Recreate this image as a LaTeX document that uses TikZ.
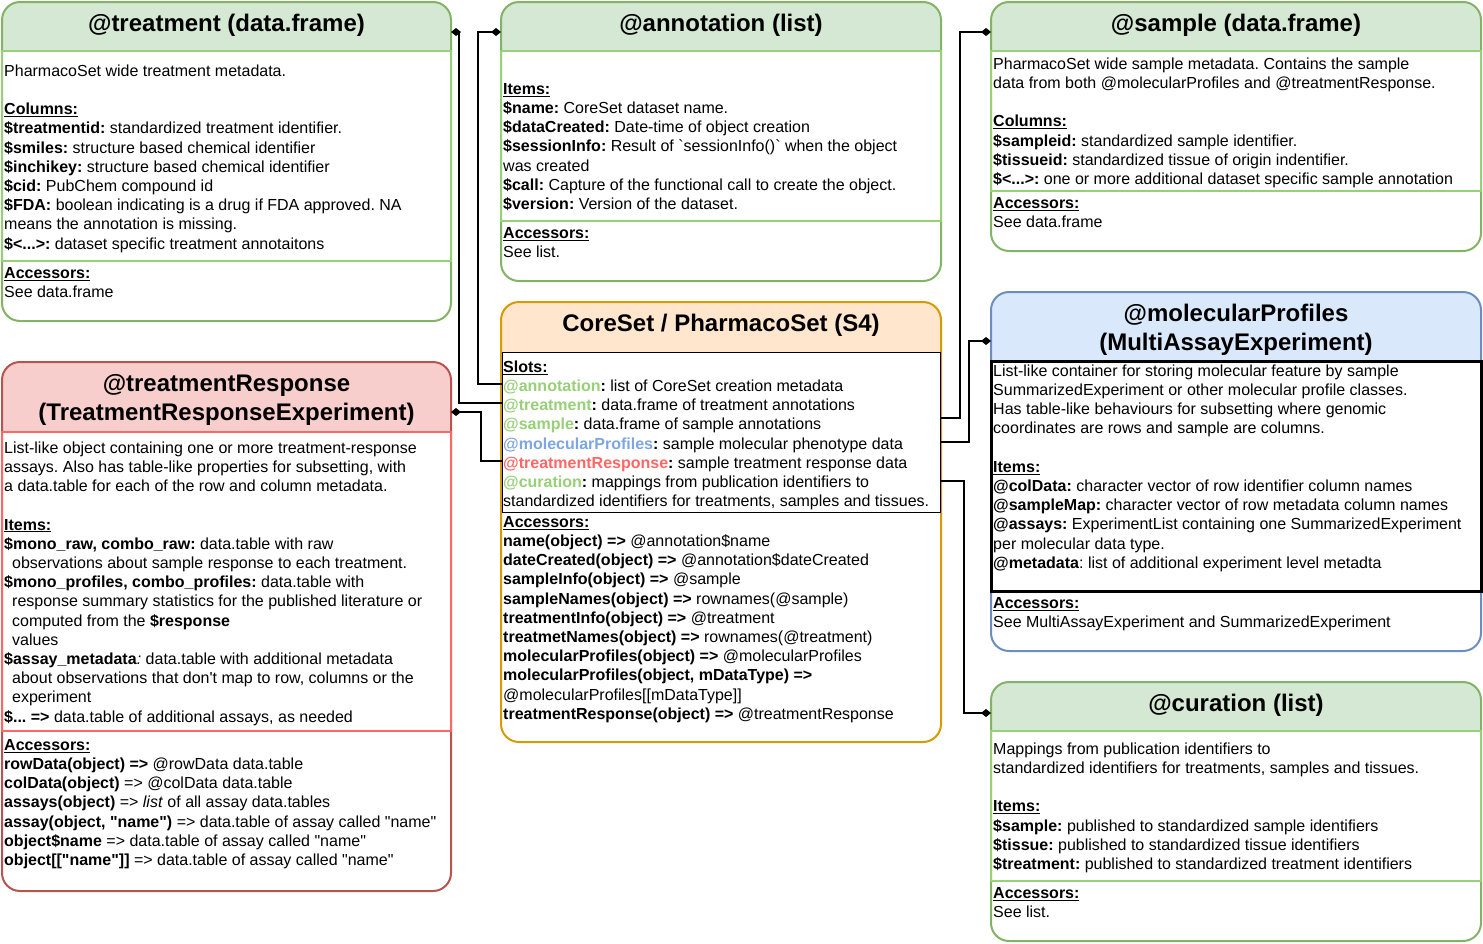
\documentclass[tikz,border=0pt]{standalone}
\usepackage{fontspec}
\setmainfont{Liberation Sans}
\usepackage{tikz}
\usetikzlibrary{arrows.meta,positioning}
\definecolor{grnline}{HTML}{82B366}
\definecolor{grnsec}{HTML}{97D077}
\definecolor{grnfill}{HTML}{D5E8D4}
\definecolor{redline}{HTML}{B85450}
\definecolor{redsec}{HTML}{FF6666}
\definecolor{redfill}{HTML}{F8CECC}
\definecolor{orgline}{HTML}{D79B00}
\definecolor{orgfill}{HTML}{FFE6CC}
\definecolor{blueline}{HTML}{6C8EBF}
\definecolor{bluefill}{HTML}{DAE8FC}
\definecolor{blueslot}{HTML}{7EA6E0}
\newcommand{\hd}[1]{\underline{\textbf{#1}}}
\newcommand{\lnstrut}{\rule{0pt}{14pt}}
\newcommand{\ttlstrut}{\rule{0pt}{20pt}}
\newcommand{\qn}{\textquotedbl name\textquotedbl}
\frenchspacing

\begin{document}
\begin{tikzpicture}[x=1pt, y=-1pt,
  txt/.style={anchor=north west, align=left, inner sep=0pt, font=\fontsize{16}{19.2}\selectfont},
  ttl/.style={anchor=north, align=center, inner sep=0pt, font=\fontsize{24}{28.8}\selectfont\bfseries},
  classbox/.style n args={3}{draw=#1, fill=white, line width=2pt, rounded corners=18pt,
    anchor=north west, inner sep=0pt, outer sep=0pt,
    path picture={\fill[#2, sharp corners] (path picture bounding box.north west) rectangle ([yshift=-#3]path picture bounding box.north east);}},
  conn/.style={draw=black, line width=1.5pt, -{Diamond[length=10pt,width=8pt]}}]
  \useasboundingbox (0,0) rectangle (1483,943);

  % treatment slot
  \node[classbox={grnline}{grnfill}{49pt}, minimum width=449pt, minimum height=319pt] (treat) at (2,2) {};
  \draw[grnsec, line width=2pt] (2,51) rectangle (451,261);
  \node[ttl] (treatT) at (226.5,11) {\ttlstrut @treatment (data.frame)};
  \node[txt] (treatB) at (4,62) {\lnstrut PharmacoSet wide treatment metadata.\\[19.2pt]
    \hd{Columns:}\\
    \textbf{\$treatmentid:} standardized treatment identifier.\\
    \textbf{\$smiles:} structure based chemical identifier\\
    \textbf{\$inchikey:} structure based chemical identifier\\
    \textbf{\$cid:} PubChem compound id\\
    \textbf{\$FDA:} boolean indicating is a drug if FDA approved. NA\\
    means the annotation is missing.\\
    \textbf{\$<...>:} dataset specific treatment annotaitons};
  \node[txt] (treatA) at (4,264) {\lnstrut\hd{Accessors:}\\ See data.frame};

  % annotation slot
  \node[classbox={grnline}{grnfill}{49pt}, minimum width=440pt, minimum height=279pt] (ann) at (501,2) {};
  \draw[grnsec, line width=2pt] (501,51) rectangle (941,221);
  \node[ttl] (annT) at (721,11) {\ttlstrut @annotation (list)};
  \node[txt] (annB) at (503,80) {\lnstrut\hd{Items:}\\
    \textbf{\$name:} CoreSet dataset name.\\
    \textbf{\$dataCreated:} Date-time of object creation\\
    \textbf{\$sessionInfo:} Result of \textasciigrave sessionInfo()\textasciigrave\ when the object\\
    was created\\
    \textbf{\$call:} Capture of the functional call to create the object.\\
    \textbf{\$version:} Version of the dataset.};
  \node[txt] (annA) at (503,224) {\lnstrut\hd{Accessors:}\\ See list.};

  % sample slot
  \node[classbox={grnline}{grnfill}{49pt}, minimum width=490pt, minimum height=249pt] (smp) at (991,2) {};
  \draw[grnsec, line width=2pt] (991,51) rectangle (1481,191);
  \node[ttl] (smpT) at (1236,11) {\ttlstrut @sample (data.frame)};
  \node[txt] (smpB) at (993,55) {\lnstrut PharmacoSet wide sample metadata. Contains the sample\\
    data from both @molecularProfiles and @treatmentResponse.\\[19.2pt]
    \hd{Columns:}\\
    \textbf{\$sampleid:} standardized sample identifier.\\
    \textbf{\$tissueid:} standardized tissue of origin indentifier.\\
    \textbf{\$<...>:} one or more additional dataset specific sample annotation};
  \node[txt] (smpA) at (993,194) {\lnstrut\hd{Accessors:}\\ See data.frame};

  % CoreSet / PharmacoSet
  \node[classbox={orgline}{orgfill}{50pt}, minimum width=440pt, minimum height=440pt] (core) at (501,302) {};
  \draw[black, line width=1pt] (502,352) rectangle (940,512);
  \node[ttl] (coreT) at (721,311) {\ttlstrut CoreSet / PharmacoSet (S4)};
  \node[txt] (coreB) at (503,358) {\lnstrut\hd{Slots:}\\
    \textbf{\textcolor{grnsec}{@annotation}:} list of CoreSet creation metadata\\
    \textbf{\textcolor{grnsec}{@treatment}:} data.frame of treatment annotations\\
    \textbf{\textcolor{grnsec}{@sample}:} data.frame of sample annotations\\
    \textbf{\textcolor{blueslot}{@molecularProfiles}:} sample molecular phenotype data\\
    \textbf{\textcolor{redsec}{@treatmentResponse}:} sample treatment response data\\
    \textbf{\textcolor{grnsec}{@curation}:} mappings from publication identifiers to\\
    standardized identifiers for treatments, samples and tissues.};
  \node[txt] (coreA) at (503,513) {\lnstrut\hd{Accessors:}\\
    \textbf{name(object) =>} @annotation\$name\\
    \textbf{dateCreated(object) =>} @annotation\$dateCreated\\
    \textbf{sampleInfo(object) =>} @sample\\
    \textbf{sampleNames(object) =>} rownames(@sample)\\
    \textbf{treatmentInfo(object) =>} @treatment\\
    \textbf{treatmetNames(object) =>} rownames(@treatment)\\
    \textbf{molecularProfiles(object) =>} @molecularProfiles\\
    \textbf{molecularProfiles(object, mDataType) =>}\\
    @molecularProfiles[[mDataType]]\\
    \textbf{treatmentResponse(object) =>} @treatmentResponse};

  % treatmentResponse slot
  \node[classbox={redline}{redfill}{70pt}, minimum width=449pt, minimum height=529pt] (tresp) at (2,362) {};
  \draw[redsec, line width=2pt] (2,432) rectangle (451,731);
  \node[ttl] (trespT) at (226.5,371) {\ttlstrut @treatmentResponse\\ (TreatmentResponseExperiment)};
  \node[txt] (trespB) at (4,439) {\lnstrut List-like object containing one or more treatment-response\\
    assays. Also has table-like properties for subsetting, with\\
    a data.table for each of the row and column metadata.\\[19.2pt]
    \hd{Items:}\\
    \textbf{\$mono\_raw, combo\_raw:} data.table with raw\\
    \hspace*{8pt}observations about sample response to each treatment.\\
    \textbf{\$mono\_profiles, combo\_profiles:} data.table with\\
    \hspace*{8pt}response summary statistics for the published literature or\\
    \hspace*{8pt}computed from the \textbf{\$response}\\
    \hspace*{8pt}values\\
    \textbf{\$assay\_metadata}\textit{:} data.table with additional metadata\\
    \hspace*{8pt}about observations that don\textquotesingle t map to row, columns or the\\
    \hspace*{8pt}experiment\\
    \textbf{\$... =>} data.table of additional assays, as needed};
  \node[txt] (trespA) at (4,736) {\lnstrut\hd{Accessors:}\\
    \textbf{rowData(object) =>} @rowData data.table\\
    \textbf{colData(object)} => @colData data.table\\
    \textbf{assays(object)} => \textit{list} of all assay data.tables\\
    \textbf{assay(object, \qn)} => data.table of assay called \qn\\
    \textbf{object\$name} => data.table of assay called \qn\\
    \textbf{object[[\qn]]} => data.table of assay called \qn};

  % molecularProfiles slot
  \node[classbox={blueline}{bluefill}{69pt}, minimum width=490pt, minimum height=359pt] (molp) at (991,292) {};
  \draw[black, line width=3pt] (991,361) rectangle (1481,591);
  \node[ttl] (molpT) at (1236,301) {\ttlstrut @molecularProfiles\\ (MultiAssayExperiment)};
  \node[txt] (molpB) at (993,362) {\lnstrut List-like container for storing molecular feature by sample\\
    SummarizedExperiment or other molecular profile classes.\\
    Has table-like behaviours for subsetting where genomic\\
    coordinates are rows and sample are columns.\\[19.2pt]
    \hd{Items:}\\
    \textbf{@colData:} character vector of row identifier column names\\
    \textbf{@sampleMap:} character vector of row metadata column names\\
    \textbf{@assays:} ExperimentList containing one SummarizedExperiment\\
    per molecular data type.\\
    \textbf{@metadata}: list of additional experiment level metadta};
  \node[txt] (molpA) at (993,594) {\lnstrut\hd{Accessors:}\\ See MultiAssayExperiment and SummarizedExperiment};

  % curation slot
  \node[classbox={grnline}{grnfill}{49pt}, minimum width=490pt, minimum height=259pt] (cur) at (991,682) {};
  \draw[grnsec, line width=2pt] (991,731) rectangle (1481,881);
  \node[ttl] (curT) at (1236,691) {\ttlstrut @curation (list)};
  \node[txt] (curB) at (993,740) {\lnstrut Mappings from publication identifiers to\\
    standardized identifiers for treatments, samples and tissues.\\[19.2pt]
    \hd{Items:}\\
    \textbf{\$sample:} published to standardized sample identifiers\\
    \textbf{\$tissue:} published to standardized tissue identifiers\\
    \textbf{\$treatment:} published to standardized treatment identifiers};
  \node[txt] (curA) at (993,884) {\lnstrut\hd{Accessors:}\\ See list.};

  % slot links
  \coordinate (sAnn) at (503,384);
  \coordinate (sTrt) at (503,403);
  \coordinate (sTR) at (503,461);
  \coordinate (sSmp) at (941,418);
  \coordinate (sMP) at (941,442);
  \coordinate (sCur) at (941,481);
  \draw[conn] (sAnn) -- ++(-25,0) |- ([yshift=-30pt]ann.north west);
  \draw[conn] (sTrt) -- ++(-44,0) |- ([yshift=-30pt]treat.north east);
  \draw[conn] (sTR) -- ++(-22,0) |- ([yshift=-50pt]tresp.north east);
  \draw[conn] (sSmp) -- ++(19,0) |- ([yshift=-30pt]smp.north west);
  \draw[conn] (sMP) -- ++(28,0) |- ([yshift=-49pt]molp.north west);
  \draw[conn] (sCur) -- ++(23,0) |- ([yshift=-31pt]cur.north west);
\end{tikzpicture}
\end{document}
